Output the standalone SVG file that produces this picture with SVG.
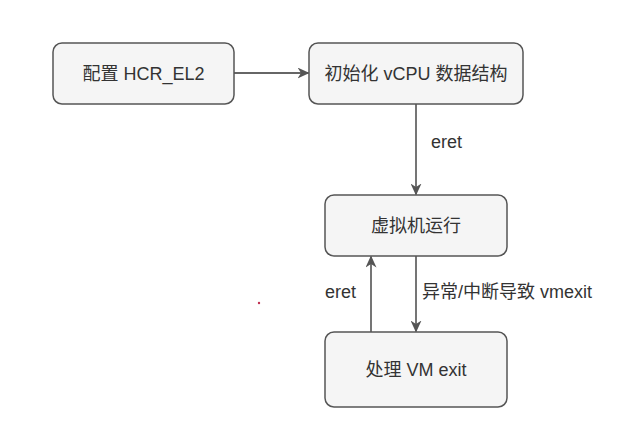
<svg xmlns="http://www.w3.org/2000/svg" width="627" height="446" viewBox="0 0 627 446">
<style>
.box{fill:#f5f5f5;stroke:#555;stroke-width:1.5}
.t{font-family:"Liberation Sans","Noto Sans CJK SC",sans-serif;font-size:18px;fill:#333}
.c{text-anchor:middle;dominant-baseline:central}
.ln{stroke:#666;stroke-width:1.8;fill:none;marker-end:url(#ah)}
</style>
<defs>
<marker id="ah" viewBox="0 0 12 11" refX="11" refY="5.5" markerWidth="12" markerHeight="11" markerUnits="userSpaceOnUse" orient="auto">
<path d="M0,0 L12,5.5 L0,11 L3.5,5.5 Z" fill="#555"/>
</marker>
</defs>
<rect width="627" height="446" fill="#fff"/>
<g id="connectors">
<path class="ln" d="M234,73 H308.5"/>
<path class="ln" d="M416,104 V194.5"/>
<path class="ln" d="M416,256 V331.5"/>
<path class="ln" d="M371,332 V256.5"/>
<text class="t" x="431" y="148">eret</text>
<text class="t" x="422" y="298">异常/中断导致 vmexit</text>
<text class="t" x="325" y="298">eret</text>
</g>
<g id="n1"><rect class="box" x="53" y="43" width="181" height="61" rx="9"/><text class="t c" x="143.5" y="73.5">配置 HCR_EL2</text></g>
<g id="n2"><rect class="box" x="309" y="43" width="214" height="61" rx="9"/><text class="t c" x="416" y="73.5">初始化 vCPU 数据结构</text></g>
<g id="n3"><rect class="box" x="325" y="195" width="182" height="61" rx="9"/><text class="t c" x="416" y="225.5">虚拟机运行</text></g>
<g id="n4"><rect class="box" x="325" y="332" width="182" height="75" rx="9"/><text class="t c" x="416" y="369.5">处理 VM exit</text></g>
<circle cx="259" cy="303" r="1.2" fill="#c03050"/>
</svg>
